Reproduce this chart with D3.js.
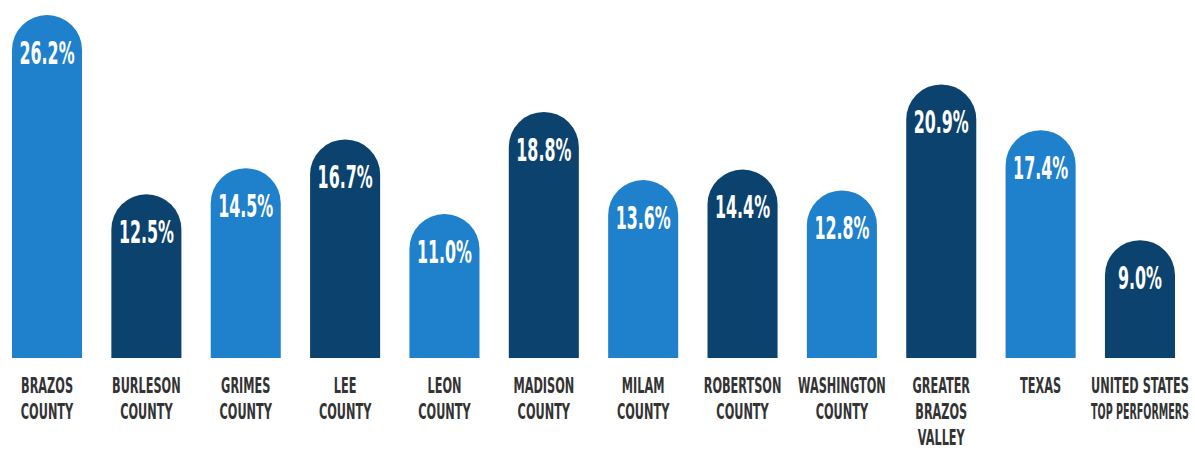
<!DOCTYPE html>
<html><head><meta charset="utf-8">
<script src="https://cdn.jsdelivr.net/npm/d3@7"></script>
<style>body{margin:0;background:#fff}svg{display:block}</style>
</head><body><svg id="c" width="1195" height="450"></svg>
<script>
const categories = [["BRAZOS","COUNTY"],["BURLESON","COUNTY"],["GRIMES","COUNTY"],["LEE","COUNTY"],["LEON","COUNTY"],["MADISON","COUNTY"],["MILAM","COUNTY"],["ROBERTSON","COUNTY"],["WASHINGTON","COUNTY"],["GREATER","BRAZOS","VALLEY"],["TEXAS"],["UNITED STATES","TOP PERFORMERS"]];
const values = [26.2,12.5,14.5,16.7,11.0,18.8,13.6,14.4,12.8,20.9,17.4,9.0];
const colors = ["#1F80CC","#0C426E"];

const svg = d3.select("#c");
const font = "'Liberation Sans Narrow','Arial Narrow','DejaVu Sans Condensed',sans-serif";
const x = d3.scaleBand().domain(d3.range(values.length)).range([12,1175]).paddingInner(0.295).paddingOuter(0);
const y = d3.scaleLinear().domain([0,26.2]).range([358,15]);
const bw = x.bandwidth(), r = bw/2;

function measure(txt, size, weight){
  const t = svg.append("text").style("font-family",font).style("font-size",size+"px").style("font-weight",weight).text(txt);
  const w = t.node().getComputedTextLength(); t.remove(); return w;
}
const valScale = 55 / measure("26.2%", 32, "600");
const labScale = 52 / measure("BRAZOS", 22, "bold");

function barPath(i){
  const x0 = x(i), x1 = x0+bw, top = y(values[i]), b = y(0);
  return `M${x0},${b} L${x0},${top+r} A${r},${r} 0 0 1 ${x1},${top+r} L${x1},${b} Z`;
}
svg.selectAll("path.bar").data(values).join("path").attr("class","bar")
  .attr("d",(d,i)=>barPath(i)).attr("fill",(d,i)=>colors[i%2]);

svg.selectAll("text.val").data(values).join("text").attr("class","val")
  .attr("transform",(d,i)=>`translate(${x(i)+bw/2},${y(d)+49}) scale(${valScale},1)`)
  .attr("text-anchor","middle").attr("fill","#fff")
  .style("font-family",font).style("font-size","32px").style("font-weight","600")
  .text(d=>d.toFixed(1)+"%");

const g = svg.selectAll("g.lab").data(categories).join("g").attr("class","lab");
g.each(function(lines,i){
  d3.select(this).selectAll("text").data(lines).join("text")
    .attr("transform",(t,j)=>{
      const w = measure(t,22,"bold")*labScale;
      const s = w > 98 ? labScale*98/w : labScale;
      const cx = Math.min(x(i)+bw/2, 1194 - Math.min(w,98)/2);
      return `translate(${cx},${393+j*26}) scale(${s},1)`;
    })
    .attr("text-anchor","middle").attr("fill","#333")
    .style("font-family",font).style("font-size","22px").style("font-weight","bold")
    .text(t=>t);
});
</script></body></html>
